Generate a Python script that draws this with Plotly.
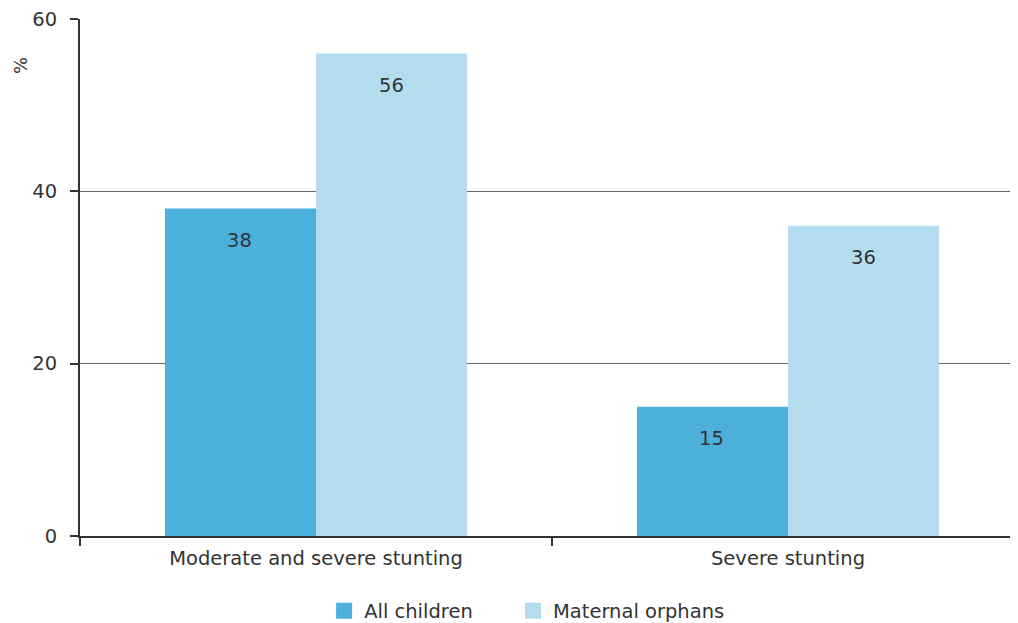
import plotly.graph_objects as go

categories = ["Moderate and severe stunting", "Severe stunting"]
all_children = [38, 15]
maternal_orphans = [56, 36]
series_names = ["All children", "Maternal orphans"]
y_ticks = [0, 20, 40, 60]

dark_blue = "#4bb1dc"
light_blue = "#b3ddef"
text_col = "#333333"

fig = go.Figure()
fig.add_trace(go.Bar(x=categories, y=all_children, name=series_names[0], showlegend=False,
                     marker=dict(color=dark_blue, line=dict(width=0))))
fig.add_trace(go.Bar(x=categories, y=maternal_orphans, name=series_names[1], showlegend=False,
                     marker=dict(color=light_blue, line=dict(width=0))))

# legend-only entries (one legend each so they can be placed freely)
for name, col, lg in zip(series_names, [dark_blue, light_blue], ["legend", "legend2"]):
    fig.add_trace(go.Scatter(x=[None], y=[None], mode="markers", name=name, legend=lg,
                             marker=dict(symbol="square", size=22, color=col)))

# value labels sit a little below the top of each bar
for i, cat in enumerate(categories):
    for j, vals in enumerate([all_children, maternal_orphans]):
        fig.add_annotation(x=cat, y=vals[i], text=str(vals[i]), showarrow=False,
                           xshift=(-77 if j == 0 else 75), yshift=-32,
                           font=dict(size=19.5, color=text_col))

fig.add_annotation(xref="paper", yref="paper", x=-0.064, y=0.911, text="%",
                   xanchor="center", yanchor="middle",
                   textangle=-90, showarrow=False, font=dict(size=18, color=text_col))

leg_common = dict(orientation="h", xref="container", yref="container",
                  xanchor="left", y=0.0195, yanchor="middle",
                  font=dict(size=19.5, color=text_col), itemsizing="trace",
                  bgcolor="rgba(0,0,0,0)")

# page body has an 8px margin, so the figure is 8px smaller and margins shifted
fig.update_layout(
    width=1010, height=615,
    margin=dict(l=72, r=0, t=11, b=87),
    barmode="group", bargap=0.36, bargroupgap=0,
    plot_bgcolor="white", paper_bgcolor="white",
    font=dict(family="DejaVu Sans, Verdana, sans-serif", size=19.5, color=text_col),
    showlegend=True,
    legend=dict(x=0.313, **leg_common),
    legend2=dict(x=0.500, **leg_common),
    xaxis=dict(type="category", range=[-0.5, 1.4873], tickson="boundaries",
               ticks="outside", ticklen=8, tickcolor="#333", tickwidth=2,
               showline=True, linecolor="#333", linewidth=2, automargin=False,
               ticklabelstandoff=4,
               tickfont=dict(size=19.5, color=text_col), showgrid=False),
    yaxis=dict(range=[0, 60], tickvals=y_ticks, ticks="outside", ticklen=8,
               tickcolor="#333", tickwidth=2, showline=True, linecolor="#333",
               linewidth=2, showgrid=True, gridcolor="#666", gridwidth=1.3,
               automargin=False, ticklabelstandoff=9, ticklabeloverflow="allow",
               tickfont=dict(size=19.5, color=text_col), zeroline=False),
)

fig.write_html("out.html")
